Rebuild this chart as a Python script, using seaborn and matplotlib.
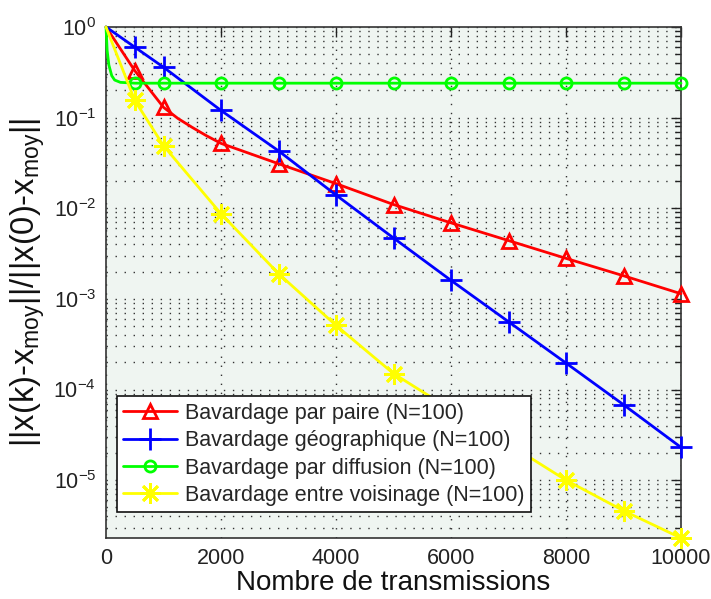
import numpy as np
import pandas as pd
import matplotlib
matplotlib.use("Agg")
import matplotlib.pyplot as plt
import seaborn as sns
from matplotlib.ticker import LogLocator, NullFormatter, FixedLocator

# Iteration counts where the error was recorded
x_pair = [0, 500, 1000, 1250, 1500, 1750, 2000, 3000, 4000, 5000, 6000, 7000, 8000, 9000, 10000]
err_pair = [1.0, 0.33, 0.13, 0.098, 0.078, 0.063, 0.052, 0.031, 0.0187, 0.011, 0.0069, 0.0044, 0.0028, 0.0018, 0.00114]

x_geo = [0, 500, 1000, 2000, 3000, 4000, 5000, 6000, 7000, 8000, 9000, 10000]
err_geo = [1.0, 0.6, 0.36, 0.12, 0.043, 0.014, 0.0047, 0.0016, 0.00056, 0.000196, 0.000068, 0.000023]

x_diff = [0, 20, 50, 100, 150, 250, 500, 1000, 2000, 3000, 4000, 5000, 6000, 7000, 8000, 9000, 10000]
err_diff = [1.0, 0.55, 0.38, 0.29, 0.26, 0.245, 0.24, 0.24, 0.24, 0.24, 0.24, 0.24, 0.24, 0.24, 0.24, 0.24, 0.24]

x_vois = [0, 500, 1000, 2000, 3000, 4000, 5000, 6000, 7000, 8000, 9000, 10000]
err_vois = [1.0, 0.155, 0.049, 0.0087, 0.0019, 0.00051, 0.00015, 0.00006, 0.000025, 0.00001, 0.0000046, 0.0000023]

# Iterations carrying a marker
marked = [500, 1000, 2000, 3000, 4000, 5000, 6000, 7000, 8000, 9000, 10000]

labels = [
    "Bavardage par paire (N=100)",
    "Bavardage géographique (N=100)",
    "Bavardage par diffusion (N=100)",
    "Bavardage entre voisinage (N=100)",
]
colors = ["#ff0000", "#0000ff", "#00ff00", "#ffff00"]
markers = ["^", "+", "o", (8, 2, 0)]
msizes = [10, 16, 8, 15]

sns.set_theme(style="white")
plt.rcParams["font.family"] = ["Liberation Sans", "DejaVu Sans"]
plt.rcParams["mathtext.fontset"] = "custom"
plt.rcParams["mathtext.rm"] = "Liberation Sans"
plt.rcParams["mathtext.it"] = "Liberation Sans"

fig = plt.figure(figsize=(7.11, 5.99), dpi=100)
ax = fig.add_axes([106 / 711, 1 - 538 / 599, (681 - 106) / 711, (538 - 27) / 599])
ax.set_facecolor("#eff5f1")

series = [(x_pair, err_pair), (x_geo, err_geo), (x_diff, err_diff), (x_vois, err_vois)]
for (xs, ys), lab, col, mk, ms in zip(series, labels, colors, markers, msizes):
    df = pd.DataFrame({"n": xs, "err": ys})
    every = [i for i, v in enumerate(xs) if v in marked]
    sns.lineplot(data=df, x="n", y="err", ax=ax, color=col, linewidth=2,
                 marker=mk, markersize=ms, markevery=every,
                 markerfacecolor="none" if mk in ("^", "o") else col,
                 markeredgecolor=col, markeredgewidth=2, label=lab,
                 clip_on=False, zorder=3)

ax.set_yscale("log")
ax.set_xlim(0, 10000)
ax.set_ylim(2.3e-6, 1)
ax.set_xticks([0, 2000, 4000, 6000, 8000, 10000])
ax.yaxis.set_major_locator(FixedLocator([1e-5, 1e-4, 1e-3, 1e-2, 1e-1, 1]))
ax.yaxis.set_minor_locator(LogLocator(base=10, subs=np.arange(2, 10), numticks=20))
ax.yaxis.set_minor_formatter(NullFormatter())

dots = (0, (1, 5.5))
ax.grid(True, which="major", axis="both", color="#333333", linestyle=dots, linewidth=1.0)
ax.grid(True, which="minor", axis="y", color="#333333", linestyle=dots, linewidth=1.0)

for side in ["top", "right", "bottom", "left"]:
    ax.spines[side].set_color("#333333")
    ax.spines[side].set_linewidth(1.2)
ax.tick_params(axis="both", which="both", direction="in", top=True, right=True,
               colors="#222222", labelcolor="#222222")
ax.tick_params(axis="both", which="major", length=7, width=1, labelsize=15.5, pad=7)
ax.tick_params(axis="y", which="minor", length=4, width=1)

ax.set_xlabel("Nombre de transmissions", fontsize=20, color="#111111", labelpad=1)
ax.set_ylabel(r"||x(k)-x$_{\mathregular{moy}}$||/||x(0)-x$_{\mathregular{moy}}$||",
              fontsize=23.5, color="#111111", labelpad=5)

leg = ax.legend(loc="lower left", bbox_to_anchor=(0.019, 0.05), fontsize=15.5,
                frameon=True, fancybox=False, framealpha=1, edgecolor="#111111",
                borderpad=0.3, labelspacing=0.3, handlelength=2.5, handletextpad=0.35,
                borderaxespad=0)
leg.get_frame().set_linewidth(1.2)
leg.set_zorder(5)

fig.savefig("out.png", dpi=100, facecolor="white")
